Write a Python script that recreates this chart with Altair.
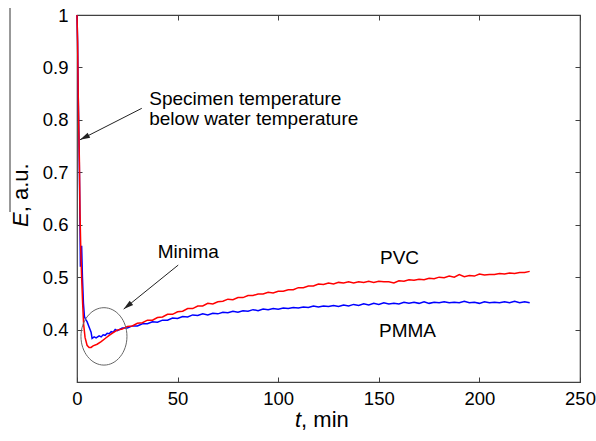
import altair as alt
import pandas as pd

# ---------------- data ----------------
pvc_t = [0, 0.3, 0.6, 0.9, 1.2, 1.5, 1.9, 2.3, 2.8, 3.3, 4.0, 5.0, 6.0, 7.0, 8.0,
         10, 12, 14, 16, 18,
         20, 22.5, 25, 27.5, 30, 32.5, 35, 37.5, 40, 42.5, 45, 47.5, 50, 52.5, 55,
         57.5, 60, 62.5, 65, 67.5, 70, 72.5, 75, 77.5, 80, 82.5, 85, 87.5, 90,
         92.5, 95, 97.5, 100, 102.5, 105, 107.5, 110, 112.5, 115, 117.5, 120,
         122.5, 125, 127.5, 130, 132.5, 135, 137.5, 140, 142.5, 145, 147.5, 150,
         152.5, 155, 157.5, 160, 162.5, 165, 167.5, 170, 172.5, 175, 177.5, 180,
         182.5, 185, 187.5, 190, 192.5, 195, 197.5, 200, 202.5, 205, 207.5, 210,
         212.5, 215, 217.5, 220, 222.5, 225]
pvc_e = [1.0, 0.95, 0.85, 0.78, 0.72, 0.62, 0.55, 0.50, 0.45, 0.41, 0.385, 0.370,
         0.366, 0.366, 0.369, 0.372, 0.377, 0.383, 0.389, 0.394,
         0.399, 0.401, 0.406, 0.407, 0.412, 0.413, 0.418, 0.418, 0.423, 0.424,
         0.429, 0.429, 0.434, 0.435, 0.440, 0.440, 0.445, 0.445, 0.450, 0.449,
         0.453, 0.454, 0.458, 0.457, 0.461, 0.461, 0.465, 0.465, 0.468, 0.468,
         0.471, 0.470, 0.473, 0.473, 0.476, 0.476, 0.480, 0.480, 0.483, 0.483,
         0.487, 0.486, 0.489, 0.487, 0.490, 0.489, 0.491, 0.489, 0.491, 0.490,
         0.492, 0.490, 0.492, 0.491, 0.491, 0.489, 0.493, 0.492, 0.495, 0.494,
         0.496, 0.495, 0.498, 0.497, 0.500, 0.499, 0.502, 0.500, 0.505, 0.501,
         0.503, 0.502, 0.506, 0.504, 0.505, 0.505, 0.507, 0.506, 0.508, 0.507,
         0.509, 0.509, 0.511]

pmma_t = [0, 0.3, 0.6, 0.9, 1.2, 1.5, 1.7, 2.0, 2.3, 2.7, 3.2, 3.7, 4.2, 5.0, 6.0,
          7.0, 7.5, 8.5, 9.5, 11, 12, 13, 14, 15, 16, 17, 18, 19,
          20, 22.5, 25, 27.5, 30, 32.5, 35, 37.5, 40, 42.5, 45, 47.5, 50, 52.5, 55,
          57.5, 60, 62.5, 65, 67.5, 70, 72.5, 75, 77.5, 80, 82.5, 85, 87.5, 90,
          92.5, 95, 97.5, 100, 102.5, 105, 107.5, 110, 112.5, 115, 117.5, 120,
          122.5, 125, 127.5, 130, 132.5, 135, 137.5, 140, 142.5, 145, 147.5, 150,
          152.5, 155, 157.5, 160, 162.5, 165, 167.5, 170, 172.5, 175, 177.5, 180,
          182.5, 185, 187.5, 190, 192.5, 195, 197.5, 200, 202.5, 205, 207.5, 210,
          212.5, 215, 217.5, 220, 222.5, 225]
pmma_e = [1.0, 0.95, 0.85, 0.78, 0.70, 0.60, 0.52, 0.53, 0.56, 0.50, 0.45, 0.425,
          0.42, 0.415, 0.405, 0.395, 0.383, 0.386, 0.384, 0.388, 0.386, 0.390,
          0.389, 0.393, 0.392, 0.396, 0.395, 0.400,
          0.398, 0.403, 0.403, 0.407, 0.407, 0.411, 0.411, 0.415, 0.414, 0.418,
          0.418, 0.422, 0.421, 0.425, 0.424, 0.428, 0.427, 0.430, 0.428, 0.431,
          0.430, 0.433, 0.432, 0.435, 0.433, 0.436, 0.435, 0.438, 0.436, 0.439,
          0.438, 0.440, 0.439, 0.441, 0.440, 0.442, 0.441, 0.443, 0.442, 0.445,
          0.443, 0.445, 0.444, 0.446, 0.444, 0.447, 0.445, 0.448, 0.446, 0.449,
          0.447, 0.450, 0.448, 0.451, 0.449, 0.450, 0.449, 0.452, 0.450, 0.452,
          0.450, 0.453, 0.450, 0.452, 0.451, 0.453, 0.451, 0.452, 0.451, 0.454,
          0.451, 0.452, 0.450, 0.453, 0.451, 0.452, 0.451, 0.453, 0.451, 0.454,
          0.451, 0.453, 0.451]

x_ticks = [0, 50, 100, 150, 200, 250]
y_ticks = [0.4, 0.5, 0.6, 0.7, 0.8, 0.9, 1.0]

notes_text = ["Specimen temperature", "below water temperature", "Minima", "PVC", "PMMA"]
notes_t = [35.9, 35.9, 40.1, 150.6, 150.1]
notes_e = [0.828, 0.790, 0.536, 0.5245, 0.385]

arrow_t0 = [32.2, 50.3]
arrow_e0 = [0.822, 0.523]
arrow_t1 = [1.5, 23.2]
arrow_e1 = [0.762, 0.439]
arrow_angle = [152.8, 140.8]

ellipse_t = [13.4]
ellipse_e = [0.387]

FONT = "Liberation Sans"

pvc = pd.DataFrame({"t": pvc_t, "E": pvc_e})
pmma = pd.DataFrame({"t": pmma_t, "E": pmma_e})
notes = pd.DataFrame({"label": notes_text, "t": notes_t, "E": notes_e})
arrows = pd.DataFrame({"t0": arrow_t0, "e0": arrow_e0, "t1": arrow_t1,
                       "e1": arrow_e1, "ang": arrow_angle})
ell = pd.DataFrame({"t": ellipse_t, "E": ellipse_e})

xs = alt.Scale(domain=[0, 250], nice=False)
ys = alt.Scale(domain=[0.3, 1.0], nice=False, zero=False)

lab_x = alt.Axis(values=x_ticks, ticks=False, domain=False, grid=False, title=None,
                 labelFont=FONT, labelFontSize=18.5, labelColor="black",
                 labelPadding=7, orient="bottom", labelFlush=False,
                 labelOverlap=False)
lab_y = alt.Axis(values=y_ticks, format="~g", ticks=False, domain=False, grid=False,
                 title=None, labelFont=FONT, labelFontSize=18.5, labelColor="black",
                 labelPadding=9, orient="left", labelFlush=False,
                 labelOverlap=False)


def tick_axis(orient, vals):
    return alt.Axis(values=vals, orient=orient, offset=-5, ticks=True, tickSize=5,
                    tickColor="#404040", tickWidth=1, labels=False, domain=False,
                    grid=False, title=None)


pmma_line = alt.Chart(pmma).mark_line(color="#0000ff", strokeWidth=1.5).encode(
    x=alt.X("t:Q", scale=xs, axis=lab_x),
    y=alt.Y("E:Q", scale=ys, axis=lab_y),
)
pvc_line = alt.Chart(pvc).mark_line(color="#ff0000", strokeWidth=1.5).encode(
    x=alt.X("t:Q", scale=xs, axis=None),
    y=alt.Y("E:Q", scale=ys, axis=None),
)
ticks_bl = alt.Chart(pvc).mark_point(opacity=0).encode(
    x=alt.X("t:Q", scale=xs, axis=tick_axis("bottom", x_ticks)),
    y=alt.Y("E:Q", scale=ys, axis=tick_axis("left", y_ticks)),
)
ticks_tr = alt.Chart(pvc).mark_point(opacity=0).encode(
    x=alt.X("t:Q", scale=xs, axis=tick_axis("top", x_ticks)),
    y=alt.Y("E:Q", scale=ys, axis=tick_axis("right", y_ticks)),
)

text_layer = alt.Chart(notes).mark_text(
    font=FONT, fontSize=19, align="left", baseline="alphabetic", color="black"
).encode(
    x=alt.X("t:Q", scale=xs, axis=None),
    y=alt.Y("E:Q", scale=ys, axis=None),
    text="label:N",
)

arrow_lines = alt.Chart(arrows).mark_rule(color="#222222", strokeWidth=1).encode(
    x=alt.X("t0:Q", scale=xs, axis=None),
    y=alt.Y("e0:Q", scale=ys, axis=None),
    x2="t1:Q",
    y2="e1:Q",
)
arrow_heads = alt.Chart(arrows).mark_point(
    shape="M 0 0 L -2 -0.55 L -2 0.55 Z", size=100, filled=True,
    color="#222222", opacity=1, strokeWidth=0
).encode(
    x=alt.X("t1:Q", scale=xs, axis=None),
    y=alt.Y("e1:Q", scale=ys, axis=None),
    angle=alt.Angle("ang:Q", scale=None),
)

ellipse = alt.Chart(ell).mark_point(
    shape="M -1 0 A 1 1.248 0 1 1 1 0 A 1 1.248 0 1 1 -1 0 Z", size=2116,
    filled=False, stroke="#666666", strokeWidth=1, opacity=1
).encode(
    x=alt.X("t:Q", scale=xs, axis=None),
    y=alt.Y("E:Q", scale=ys, axis=None),
)

# axis titles with italic symbol
ytit_a = alt.Chart(pd.DataFrame({"s": ["E"]})).mark_text(
    font=FONT, fontSize=22, fontStyle="italic", angle=270, align="left",
    baseline="alphabetic", color="black"
).encode(text="s:N", x=alt.value(-49), y=alt.value(212))
ytit_b = alt.Chart(pd.DataFrame({"s": [", a.u."]})).mark_text(
    font=FONT, fontSize=22, angle=270, align="left", baseline="alphabetic",
    color="black"
).encode(text="s:N", x=alt.value(-49), y=alt.value(197.3))
xtit_a = alt.Chart(pd.DataFrame({"s": ["t"]})).mark_text(
    font=FONT, fontSize=22, fontStyle="italic", align="left",
    baseline="alphabetic", color="black"
).encode(text="s:N", x=alt.value(218), y=alt.value(411.7))
xtit_b = alt.Chart(pd.DataFrame({"s": [", min"]})).mark_text(
    font=FONT, fontSize=22, align="left", baseline="alphabetic", color="black"
).encode(text="s:N", x=alt.value(224.1), y=alt.value(411.7))

edge_line = alt.Chart(pd.DataFrame({"s": [""]})).mark_rule(
    color="#333333", strokeWidth=1
).encode(x=alt.value(-67), y=alt.value(-7), y2=alt.value(197))

chart = alt.layer(
    pmma_line, pvc_line, ticks_bl, ticks_tr, ellipse, arrow_lines, arrow_heads,
    text_layer, ytit_a, ytit_b, xtit_a, xtit_b, edge_line
).resolve_axis(
    x="independent", y="independent"
).properties(
    width=503, height=367,
    padding={"left": 77, "top": 15, "right": 16, "bottom": 59},
    autosize=alt.AutoSizeParams(type="none"),
    background="white",
).configure_view(
    stroke="#404040", strokeWidth=1.2
)

chart.save("out.html", embed_options={"renderer": "svg", "actions": False})
